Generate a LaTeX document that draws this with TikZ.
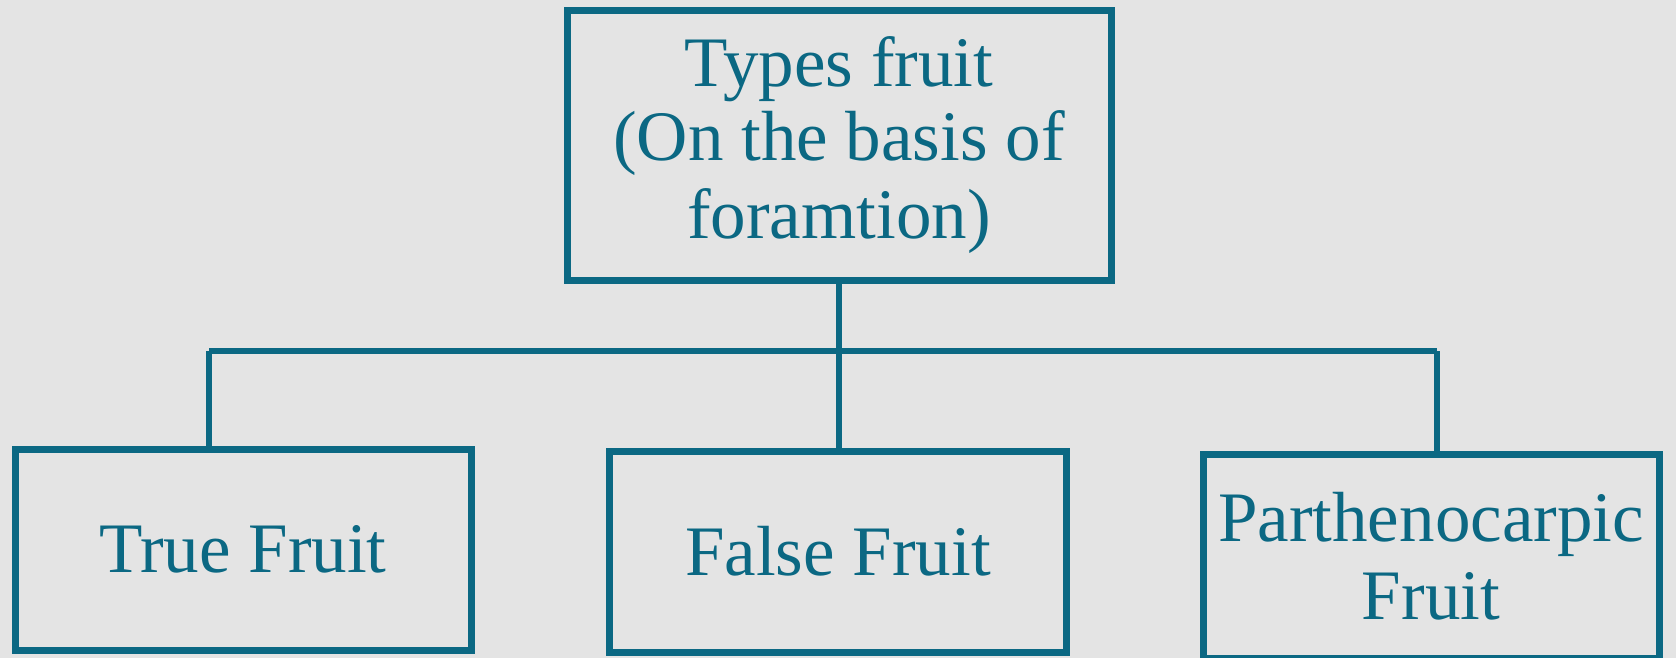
\documentclass[tikz,border=0pt]{standalone}
\usepackage{fontspec}
\setmainfont{Liberation Serif}
\definecolor{ink}{HTML}{0B6883}
\definecolor{paper}{HTML}{E4E4E4}
\begin{document}
\begin{tikzpicture}[x=1pt,y=-1pt,
  fbox/.style={draw=ink, line width=7pt, rectangle, inner sep=0pt,
    align=center, text=ink, font=\fontsize{71}{78}\selectfont},
  link/.style={draw=ink, line width=6.5pt}]
\useasboundingbox (0,0) rectangle (1676,658);
\fill[paper] (0,0) rectangle (1676,658);
\node[fbox, minimum width=544pt, minimum height=269pt] (top) at (839,145.5)
  {\raisebox{-4pt}{Types fruit}\\(On the basis of\\foramtion)};
\node[fbox, minimum width=456pt, minimum height=201pt] (left) at (243,549.5)
  {True Fruit};
\node[fbox, minimum width=457pt, minimum height=201pt] (mid) at (838,551.5)
  {False Fruit};
\node[fbox, minimum width=456pt, minimum height=204pt] (right) at (1431,556)
  {Parthenocarpic\\Fruit};
\coordinate (busL) at (209,351);
\coordinate (busR) at (1437,351);
\draw[link] (top.south) -- (top.south |- mid.north);
\draw[link] (busL) -- (busR);
\draw[link] (busL) -- (busL |- left.north);
\draw[link] (busR) -- (busR |- right.north);
\end{tikzpicture}
\end{document}
